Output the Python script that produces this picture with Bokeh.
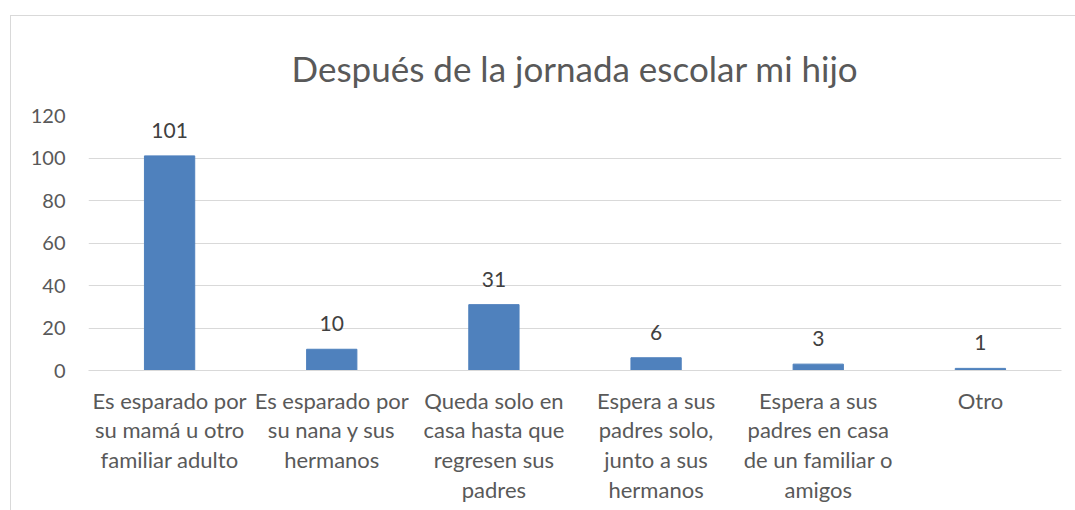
from bokeh.plotting import figure
from bokeh.models import ColumnDataSource, FactorRange, Range1d
from bokeh.core.properties import value
from bokeh.embed import file_html
from bokeh.resources import INLINE

categories = [
    "Es esparado por\nsu mamá u otro\nfamiliar adulto",
    "Es esparado por\nsu nana y sus\nhermanos",
    "Queda solo en\ncasa hasta que\nregresen sus\npadres",
    "Espera a sus\npadres solo,\njunto a sus\nhermanos",
    "Espera a sus\npadres en casa\nde un familiar o\namigos",
    "Otro",
]
counts = [101, 10, 31, 6, 3, 1]
labels = [str(v) for v in counts]
y_ticks = [0, 20, 40, 60, 80, 100, 120]

FONT = "Lato"
GRAY = "#595959"

src = ColumnDataSource(dict(cat=categories, val=counts, lab=labels))

p = figure(
    width=1065, height=495,
    x_range=FactorRange(*categories, range_padding=0.0),
    y_range=Range1d(0, 120),
    output_backend="svg", toolbar_location=None,
    title="Después de la jornada escolar mi hijo",
    min_border_left=77, min_border_right=15, min_border_top=99, min_border_bottom=141,
)
p.styles = {"border-left": "1.5px solid #D9D9D9", "border-top": "1.5px solid #D9D9D9",
            "margin-left": "10px", "margin-top": "15px"}
p.title.align = "center"
p.title.text_font = FONT
p.title.text_font_size = "35px"
p.title.text_font_style = "normal"
p.title.text_color = GRAY
p.title.offset = 0
p.title.standoff = 53

p.vbar(x="cat", top="val", width=0.31, source=src, fill_color="#4F81BD", line_color="#4F81BD")
p.text(x="cat", y="val", text="lab", source=src, text_align="center", text_baseline="bottom",
       y_offset=-18, text_font=value(FONT), text_font_size="21px", text_color="#404040")

p.outline_line_color = None
p.xgrid.grid_line_color = None
p.ygrid.grid_line_color = "#D9D9D9"
p.ygrid.ticker = y_ticks

p.yaxis.ticker = y_ticks
p.yaxis.axis_line_color = None
p.yaxis.major_tick_line_color = None
p.yaxis.minor_tick_line_color = None
p.yaxis.major_label_text_font = FONT
p.yaxis.major_label_text_font_size = "20px"
p.yaxis.major_label_text_color = GRAY
p.yaxis.major_label_standoff = 17

p.xaxis.axis_line_color = "#D9D9D9"
p.xaxis.major_tick_line_color = None
p.xaxis.minor_tick_line_color = None
p.xaxis.major_label_text_font = FONT
p.xaxis.major_label_text_font_size = "22px"
p.xaxis.major_label_text_line_height = 1.1
p.xaxis.major_label_text_color = GRAY
p.xaxis.major_label_standoff = 10
p.xaxis.major_label_orientation = "horizontal"

open("out.html", "w").write(file_html(p, INLINE))
